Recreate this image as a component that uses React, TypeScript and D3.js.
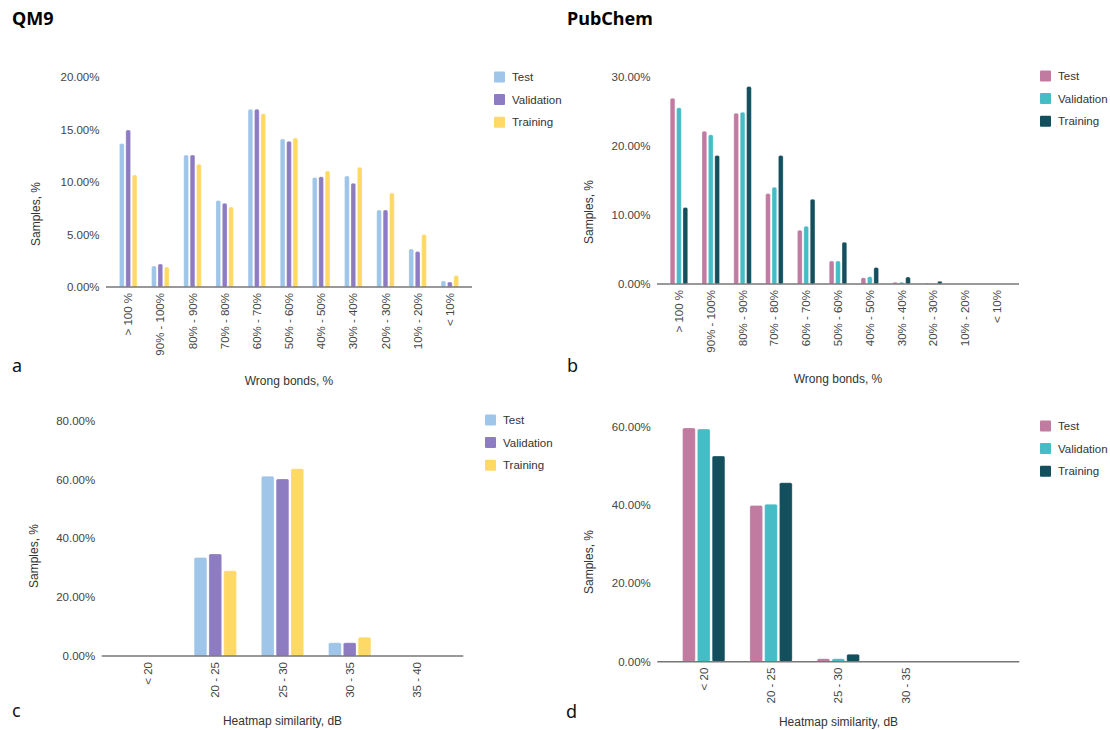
import React from "react";
import * as d3 from "d3";

const seriesNames = ["Test", "Validation", "Training"];
const qm9Colors = ["#9fc5e8", "#8e7cc3", "#ffd966"];
const pubchemColors = ["#c27ba0", "#46bdc6", "#134f5c"];

const bondCategories = [
  "> 100 %", "90% - 100%", "80% - 90%", "70% - 80%", "60% - 70%", "50% - 60%",
  "40% - 50%", "30% - 40%", "20% - 30%", "10% - 20%", "< 10%",
];
const qm9BondTest = [13.66, 2.0, 12.57, 8.23, 16.92, 14.1, 10.42, 10.57, 7.33, 3.62, 0.57];
const qm9BondVal = [14.95, 2.19, 12.57, 7.97, 16.92, 13.88, 10.51, 9.88, 7.33, 3.37, 0.48];
const qm9BondTrain = [10.67, 1.9, 11.69, 7.62, 16.5, 14.19, 11.05, 11.4, 8.95, 4.99, 1.09];

const pubBondTest = [26.88, 22.12, 24.72, 13.08, 7.79, 3.32, 0.91, 0.24, 0.1, 0, 0];
const pubBondVal = [25.5, 21.6, 24.87, 14.0, 8.37, 3.32, 1.06, 0.24, 0.02, 0, 0];
const pubBondTrain = [11.07, 18.6, 28.57, 18.6, 12.27, 6.06, 2.4, 1.0, 0.38, 0, 0];

const qm9HeatCategories = ["< 20", "20 - 25", "25 - 30", "30 - 35", "35 - 40"];
const qm9HeatTest = [0, 33.5, 61.1, 4.5, 0];
const qm9HeatVal = [0, 34.7, 60.2, 4.5, 0];
const qm9HeatTrain = [0, 29.0, 63.7, 6.4, 0];

const pubHeatCategories = ["< 20", "20 - 25", "25 - 30", "30 - 35", ""];
const pubHeatTest = [59.7, 39.9, 0.77, 0, 0];
const pubHeatVal = [59.4, 40.2, 0.77, 0, 0];
const pubHeatTrain = [52.5, 45.7, 1.9, 0, 0];

const FONT = "'Liberation Sans', Arial, sans-serif";

type PanelProps = {
  categories: string[];
  series: number[][];
  colors: string[];
  x0: number; x1: number; y0: number; y1: number;
  yMax: number; yStep: number;
  barW: number; gap: number;
  xTitle: string; xTitleX: number; xTitleY: number;
  yTitleX: number; yTitleY: number;
  legendX: number; legendY: number;
};

const Panel = (p: PanelProps) => {
  const x = d3
    .scaleBand()
    .domain(p.categories.map((_, i) => String(i)))
    .range([p.x0, p.x1])
    .paddingInner(0)
    .paddingOuter(0.19);
  const y = d3.scaleLinear().domain([0, p.yMax]).range([p.y0, p.y1]);
  const groupW = 3 * p.barW + 2 * p.gap;
  const inner = d3
    .scaleBand()
    .domain(seriesNames)
    .range([-groupW / 2, groupW / 2])
    .paddingInner(p.gap / (p.barW + p.gap));
  const ticks = d3.range(0, p.yMax + 1e-9, p.yStep);
  const fmt = d3.format(".2f");

  return (
    <g fontFamily={FONT}>
      {ticks.map((t) => (
        <text key={t} x={p.x0 - 6.5} y={y(t)} dy="0.35em" textAnchor="end" fontSize={11.5} fill="#444">
          {fmt(t) + "%"}
        </text>
      ))}
      {p.series.map((vals, s) =>
        vals.map((v, i) =>
          v > 0 ? (
            <rect
              key={s + "-" + i}
              x={(x(String(i)) as number) + x.bandwidth() / 2 + (inner(seriesNames[s]) as number)}
              y={y(v)}
              width={inner.bandwidth()}
              height={p.y0 - y(v)}
              rx={1.6}
              fill={p.colors[s]}
              stroke="#fff"
              strokeOpacity={0.45}
              strokeWidth={0.6}
            />
          ) : null
        )
      )}
      <line x1={p.x0} x2={p.x1} y1={p.y0} y2={p.y0} stroke="#777" strokeWidth={1.6} />
      {p.categories.map((c, i) => (
        <text
          key={"c" + i}
          transform={`translate(${(x(String(i)) as number) + x.bandwidth() / 2},${p.y0 + 6}) rotate(-90)`}
          dy="0.35em"
          textAnchor="end"
          fontSize={11.5}
          fill="#444"
        >
          {c}
        </text>
      ))}
      <text x={p.xTitleX} y={p.xTitleY} textAnchor="middle" fontSize={12} fill="#333">
        {p.xTitle}
      </text>
      <text
        transform={`translate(${p.yTitleX},${p.yTitleY}) rotate(-90)`}
        dy="0.35em"
        textAnchor="middle"
        fontSize={12}
        fill="#333"
      >
        Samples, %
      </text>
      {seriesNames.map((n, i) => (
        <g key={n} transform={`translate(${p.legendX},${p.legendY + i * 22.6})`}>
          <rect x={0} y={-5.5} width={11} height={11} rx={1} fill={p.colors[i]} />
          <text x={18} y={0} dy="0.35em" fontSize={11.5} fill="#333">
            {n}
          </text>
        </g>
      ))}
    </g>
  );
};

export default function App() {
  return (
    <svg
      width={1110}
      height={730}
      style={{ position: "absolute", left: 0, top: 0, background: "#fff" }}
    >
      <rect width={1110} height={730} fill="#fff" />
      <text x={12} y={25} fontFamily="'Noto Sans', sans-serif" fontWeight="bold" fontSize={18}>QM9</text>
      <text x={567} y={25} fontFamily="'Noto Sans', sans-serif" fontWeight="bold" fontSize={18}>PubChem</text>
      <g fontFamily="'Noto Sans', sans-serif" fontSize={18} fill="#111">
        <text x={12} y={372}>a</text>
        <text x={567} y={372}>b</text>
        <text x={12} y={717}>c</text>
        <text x={566} y={718}>d</text>
      </g>
      <Panel
        categories={bondCategories}
        series={[qm9BondTest, qm9BondVal, qm9BondTrain]}
        colors={qm9Colors}
        x0={106} x1={472} y0={287} y1={77}
        yMax={20} yStep={5}
        barW={4.7} gap={1.7}
        xTitle="Wrong bonds, %" xTitleX={289} xTitleY={385}
        yTitleX={36} yTitleY={214}
        legendX={494} legendY={77}
      />
      <Panel
        categories={bondCategories}
        series={[pubBondTest, pubBondVal, pubBondTrain]}
        colors={pubchemColors}
        x0={657} x1={1019} y0={284} y1={76.7}
        yMax={30} yStep={10}
        barW={4.7} gap={1.7}
        xTitle="Wrong bonds, %" xTitleX={838} xTitleY={383}
        yTitleX={589} yTitleY={212}
        legendX={1040} legendY={76}
      />
      <Panel
        categories={qm9HeatCategories}
        series={[qm9HeatTest, qm9HeatVal, qm9HeatTrain]}
        colors={qm9Colors}
        x0={101.7} x1={463.3} y0={656} y1={420.7}
        yMax={80} yStep={20}
        barW={12.7} gap={2.1}
        xTitle="Heatmap similarity, dB" xTitleX={282.5} xTitleY={725}
        yTitleX={34} yTitleY={556}
        legendX={485} legendY={420}
      />
      <Panel
        categories={pubHeatCategories}
        series={[pubHeatTest, pubHeatVal, pubHeatTrain]}
        colors={pubchemColors}
        x0={657.3} x1={1019.3} y0={661.7} y1={426.7}
        yMax={60} yStep={20}
        barW={12.7} gap={2.1}
        xTitle="Heatmap similarity, dB" xTitleX={838.5} xTitleY={726}
        yTitleX={589} yTitleY={562}
        legendX={1040} legendY={426}
      />
    </svg>
  );
}
